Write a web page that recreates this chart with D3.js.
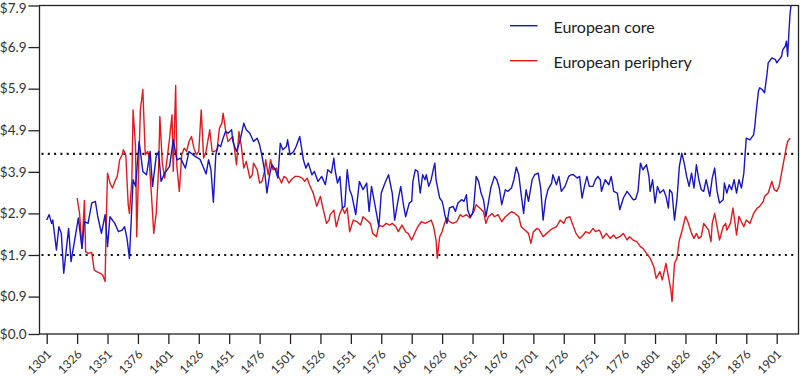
<!DOCTYPE html>
<html>
<head>
<meta charset="utf-8">
<script src="https://cdn.jsdelivr.net/npm/d3@7"></script>
<style>
  html, body { margin: 0; padding: 0; background: #fff; }
  svg { display: block; }
  text { font-family: Lato, "Open Sans", sans-serif; }
</style>
</head>
<body>
<svg id="chart" width="800" height="378"></svg>
<script>
// ---------- DATA ----------
const xTickYears = [1301,1326,1351,1376,1401,1426,1451,1476,1501,1526,1551,1576,1601,1626,1651,1676,1701,1726,1751,1776,1801,1826,1851,1876,1901];
const yTickValues = [0, 0.9, 1.9, 2.9, 3.9, 4.9, 5.9, 6.9, 7.9];
const referenceLevels = [1.9, 4.33];
const seriesNames = ["European core", "European periphery"];

const coreYears = [1301,1303,1305,1306,1309,1311,1313,1315,1319,1321,1324,1327,1330,1332,1335,1338,1341,1343,1346,1349,1351,1353,1357,1360,1363,1365,1367,1369,1372,1374,1377,1380,1383,1386,1388,1391,1393,1395,1398,1402,1405,1408,1411,1415,1418,1423,1427,1430,1432,1434,1436,1438,1440,1442,1444,1446,1448,1450,1453,1454,1457,1458,1460,1463,1465,1468,1471,1474,1476,1478,1480,1482,1484,1486,1489,1491,1493,1495,1498,1499,1501,1504,1506,1509,1512,1514,1516,1519,1521,1524,1527,1530,1532,1535,1537,1538,1540,1542,1544,1546,1548,1550,1552,1555,1558,1561,1564,1566,1568,1571,1574,1576,1579,1582,1585,1587,1590,1592,1594,1596,1599,1601,1602,1604,1606,1608,1610,1612,1613,1615,1617,1619,1620,1621,1624,1626,1627,1628,1630,1632,1635,1637,1639,1642,1644,1646,1647,1649,1651,1652,1654,1656,1658,1660,1662,1664,1666,1669,1671,1673,1675,1678,1680,1683,1685,1687,1689,1691,1693,1695,1697,1700,1702,1705,1707,1709,1711,1713,1716,1717,1720,1722,1724,1727,1730,1732,1734,1737,1739,1741,1743,1745,1747,1750,1752,1754,1756,1757,1760,1763,1765,1767,1770,1772,1775,1778,1780,1783,1785,1787,1789,1791,1794,1796,1797,1799,1801,1803,1805,1808,1810,1812,1813,1815,1817,1819,1821,1823,1825,1827,1829,1831,1833,1835,1837,1839,1841,1843,1846,1848,1850,1852,1854,1857,1858,1860,1862,1864,1866,1868,1870,1872,1874,1875,1876,1879,1882,1883,1884,1886,1887,1889,1891,1893,1894,1897,1900,1901,1903,1905,1906,1908,1909,1910,1911,1912,1913];
const coreValues = [2.74,2.87,2.66,2.74,2.02,2.58,2.42,1.46,2.54,1.74,2.26,2.79,2.06,2.70,2.66,3.15,3.19,2.82,2.42,2.87,2.10,2.82,2.66,2.46,2.50,2.58,2.30,1.82,3.71,3.55,4.63,3.91,3.83,4.39,3.55,4.27,4.39,3.67,3.87,4.03,4.67,4.19,4.23,3.99,4.39,4.27,4.20,3.99,3.85,4.19,3.95,3.17,4.31,4.55,4.51,4.71,4.87,4.83,4.91,4.63,4.39,4.47,4.67,5.07,4.91,4.83,4.63,4.71,4.55,4.27,3.95,3.39,3.79,4.07,3.95,3.75,4.59,4.43,4.51,4.67,4.31,4.39,4.51,4.75,4.19,3.99,4.11,3.83,3.91,3.67,3.79,3.59,3.95,3.87,4.23,3.95,3.63,3.79,3.03,3.07,3.95,3.47,3.31,2.87,3.67,3.47,3.63,2.95,3.55,3.07,2.58,3.39,3.63,3.83,3.39,2.74,3.25,3.55,3.15,2.82,3.15,3.19,3.67,3.95,3.91,3.39,3.83,3.71,3.83,3.55,3.71,3.99,4.11,3.71,3.27,3.19,3.07,2.90,2.66,3.03,3.07,2.95,3.15,3.23,3.19,3.35,2.99,2.82,2.90,3.07,3.79,3.67,3.39,3.23,2.82,3.15,3.51,3.79,3.71,3.51,3.11,3.47,3.43,3.51,3.71,4.01,3.83,3.35,2.90,3.47,3.19,3.71,3.83,3.87,3.51,2.74,3.23,3.47,3.63,3.83,3.59,3.79,3.43,3.55,3.79,3.83,3.83,3.75,3.79,3.27,3.55,3.79,3.55,3.55,3.71,3.79,3.71,3.43,3.71,3.59,3.79,3.43,3.39,2.99,3.27,3.43,3.35,3.23,3.24,3.43,4.11,3.95,4.07,3.79,3.43,3.71,3.15,3.55,3.39,3.47,3.31,3.03,3.47,3.39,2.74,3.23,4.03,4.35,4.11,3.79,3.55,3.87,3.51,4.07,3.71,3.47,3.43,3.71,3.31,3.75,3.99,3.43,3.15,3.23,3.63,3.39,3.59,3.47,3.71,3.39,3.71,3.51,3.87,4.31,4.71,4.67,4.79,4.99,5.31,5.84,5.92,5.88,5.80,6.24,6.52,6.64,6.60,6.52,6.60,6.68,6.84,6.92,7.04,6.68,7.24,7.72,7.95];

const peripheryYears = [1326,1328,1330,1332,1333,1335,1338,1340,1342,1345,1347,1349,1350,1351,1353,1355,1357,1359,1361,1363,1364,1366,1368,1369,1371,1372,1374,1375,1377,1378,1380,1382,1384,1385,1387,1389,1391,1393,1394,1396,1398,1400,1402,1404,1405,1407,1408,1410,1412,1414,1416,1418,1420,1422,1424,1426,1428,1430,1432,1435,1437,1439,1441,1443,1445,1446,1448,1450,1454,1457,1459,1461,1463,1465,1468,1470,1471,1474,1476,1478,1480,1481,1483,1485,1487,1490,1491,1494,1496,1498,1500,1502,1505,1508,1511,1513,1515,1517,1520,1523,1526,1528,1531,1533,1534,1537,1539,1542,1544,1546,1548,1550,1553,1556,1559,1561,1564,1567,1569,1572,1574,1577,1580,1583,1585,1588,1590,1593,1596,1598,1601,1604,1606,1609,1612,1615,1617,1619,1621,1622,1624,1626,1628,1630,1632,1635,1638,1641,1643,1646,1649,1652,1654,1657,1660,1662,1664,1667,1669,1672,1675,1678,1680,1683,1686,1689,1691,1694,1697,1699,1701,1704,1706,1709,1712,1715,1717,1720,1723,1726,1728,1731,1733,1736,1739,1742,1744,1747,1750,1752,1755,1756,1758,1761,1764,1767,1769,1772,1775,1778,1780,1783,1786,1789,1791,1794,1797,1800,1802,1805,1807,1810,1812,1814,1815,1817,1819,1821,1823,1825,1826,1828,1831,1833,1835,1837,1839,1841,1843,1845,1847,1848,1850,1852,1854,1857,1859,1860,1863,1865,1866,1868,1870,1872,1874,1876,1879,1882,1885,1887,1890,1891,1894,1897,1899,1901,1903,1905,1906,1908,1909,1910,1912];
const peripheryValues = [3.27,2.90,2.06,3.21,1.98,1.94,1.96,1.54,1.50,1.46,1.42,1.26,2.79,3.87,3.63,3.51,3.67,3.79,4.19,4.31,4.43,4.31,3.11,2.90,3.71,5.39,4.51,2.34,4.43,5.39,5.88,4.31,4.39,4.27,3.39,2.42,2.90,3.99,5.23,4.11,3.75,4.23,4.71,5.27,3.91,5.98,4.03,3.43,4.31,4.47,4.39,4.63,4.75,4.47,4.31,4.39,5.39,4.23,4.39,4.91,4.39,4.39,4.43,4.95,5.07,5.31,4.91,4.63,4.75,4.07,4.87,4.51,3.99,4.15,3.75,3.83,4.11,3.95,3.63,3.67,3.91,4.19,3.83,4.19,3.95,3.99,3.83,3.63,3.79,3.75,3.63,3.71,3.79,3.79,3.75,3.67,3.75,3.59,3.39,3.07,3.31,3.03,2.66,2.74,2.87,2.98,2.58,2.90,3.03,2.90,3.03,2.46,2.74,2.70,2.62,2.82,2.74,2.66,2.42,2.34,2.62,2.58,2.66,2.62,2.66,2.58,2.46,2.62,2.46,2.42,2.26,2.46,2.58,2.70,2.66,2.70,2.74,2.58,2.26,1.82,2.34,2.46,2.66,2.79,2.70,2.66,2.70,2.87,2.82,2.87,2.79,2.94,3.11,3.03,2.94,2.66,2.82,2.90,2.82,2.87,2.70,2.82,2.87,2.94,2.90,2.82,2.58,2.50,2.42,2.18,2.46,2.54,2.50,2.34,2.42,2.50,2.54,2.58,2.74,2.66,2.79,2.82,2.66,2.42,2.30,2.38,2.46,2.42,2.54,2.46,2.50,2.46,2.30,2.42,2.30,2.38,2.30,2.34,2.42,2.26,2.34,2.26,2.22,2.10,2.06,1.94,1.82,1.62,1.34,1.50,1.30,1.70,1.38,1.06,0.78,1.70,1.82,2.26,2.46,2.70,2.83,2.70,2.42,2.30,2.42,2.30,2.34,2.66,2.58,2.50,2.22,2.66,2.90,2.58,2.26,2.58,2.66,2.50,2.66,3.03,2.83,2.38,2.83,2.70,2.58,2.74,2.66,2.90,3.03,3.07,3.19,3.31,3.39,3.67,3.47,3.43,3.55,3.87,4.03,4.35,4.51,4.63,4.71];

// ---------- LAYOUT ----------
const svg = d3.select("#chart");
const plotLeft = 39.5, plotRight = 798.5, plotTop = 5.5, plotBottom = 334;
const colors = { core: "#1616c4", periphery: "#e31a1c" };

const x = d3.scaleLinear().domain([1301, 1901]).range([46.7, 776.7]);
const y = d3.scaleLinear().domain([0, 7.9]).range([plotBottom, plotTop]);

svg.append("defs").append("clipPath").attr("id", "clip")
  .append("rect").attr("x", plotLeft).attr("y", plotTop)
  .attr("width", plotRight - plotLeft).attr("height", plotBottom - plotTop);

// reference dotted lines
svg.append("g").selectAll("line").data(referenceLevels).join("line")
  .attr("x1", plotLeft + 2).attr("x2", plotRight - 2)
  .attr("y1", d => y(d)).attr("y2", d => y(d))
  .attr("stroke", "#111").attr("stroke-width", 2.2)
  .attr("stroke-dasharray", "2,4.3");

// series lines
const line = d3.line().x(d => x(d[0])).y(d => y(d[1]));
const periData = d3.zip(peripheryYears, peripheryValues);
const coreData = d3.zip(coreYears, coreValues);
const lines = svg.append("g").attr("clip-path", "url(#clip)");
lines.append("path").datum(periData).attr("d", line)
  .attr("fill", "none").attr("stroke", colors.periphery).attr("stroke-width", 1.4)
  .attr("stroke-linejoin", "round");
lines.append("path").datum(coreData).attr("d", line)
  .attr("fill", "none").attr("stroke", colors.core).attr("stroke-width", 1.4)
  .attr("stroke-linejoin", "round");

// frame
svg.append("rect").attr("x", plotLeft).attr("y", plotTop)
  .attr("width", plotRight - plotLeft).attr("height", plotBottom - plotTop)
  .attr("fill", "none").attr("stroke", "#222").attr("stroke-width", 1.3);

// y axis
const yAxis = svg.append("g").attr("transform", `translate(${plotLeft},0)`)
  .call(d3.axisLeft(y).tickValues(yTickValues).tickSize(11).tickPadding(2)
    .tickFormat(d => "$" + d.toFixed(1)));
yAxis.select(".domain").remove();
yAxis.selectAll(".tick line").attr("stroke", "#222").attr("stroke-width", 1.3);
yAxis.selectAll(".tick text").attr("font-size", 13.5).attr("fill", "#333")
  .style("font-family", "Lato, 'Open Sans', sans-serif")
  .attr("dy", (d, i, nodes) => i === nodes.length - 1 ? "0.5em" : "0.32em");

// x axis
const xAxis = svg.append("g").attr("transform", `translate(0,${plotBottom})`)
  .call(d3.axisBottom(x).tickValues(xTickYears).tickSize(10).tickFormat(d3.format("d")));
xAxis.select(".domain").remove();
xAxis.selectAll(".tick line").attr("stroke", "#222").attr("stroke-width", 1.3);
xAxis.selectAll(".tick text")
  .attr("x", 0).attr("y", 0).attr("dy", 0)
  .attr("transform", "translate(5,21) rotate(-45)")
  .style("text-anchor", "end")
  .attr("font-size", 12).attr("fill", "#333")
  .style("font-family", "Lato, 'Open Sans', sans-serif");

// legend
const legendItems = [
  { name: seriesNames[0], color: colors.core, ly: 25.7 },
  { name: seriesNames[1], color: colors.periphery, ly: 60.7 }
];
const lg = svg.append("g");
legendItems.forEach(it => {
  lg.append("line").attr("x1", 510).attr("x2", 537.5)
    .attr("y1", it.ly).attr("y2", it.ly)
    .attr("stroke", it.color).attr("stroke-width", 1.4);
  lg.append("text").attr("x", 553.5).attr("y", it.ly + 6.8)
    .attr("font-size", 16).attr("fill", "#222").text(it.name);
});
</script>
</body>
</html>
